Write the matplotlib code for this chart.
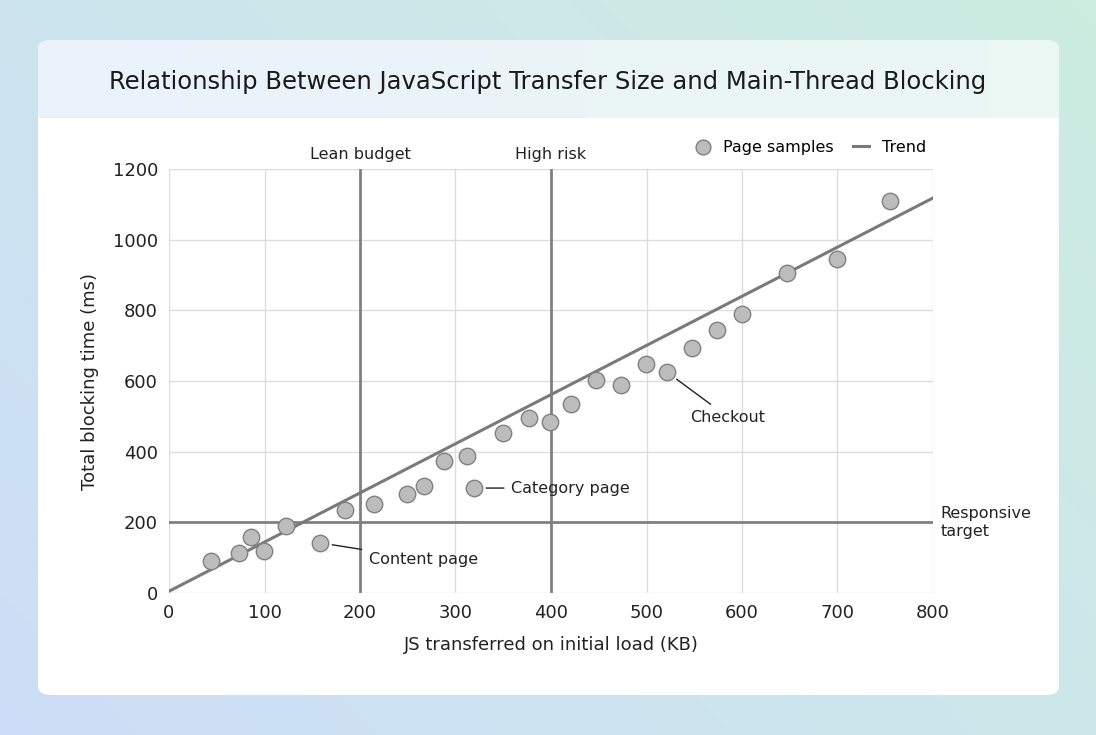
import numpy as np
import matplotlib.pyplot as plt
from matplotlib.patches import FancyBboxPatch

# page samples
js_kb = [44, 73, 86, 99, 122, 158, 184, 215, 249, 267, 288, 312, 319, 350, 377, 399,
         421, 447, 473, 499, 521, 548, 574, 600, 647, 700, 755]
tbt_ms = [91, 113, 158, 119, 190, 142, 235, 252, 280, 303, 374, 388, 297, 453, 495, 484,
          535, 603, 589, 648, 626, 693, 744, 790, 906, 945, 1110]
trend_x = [0, 800]
trend_y = [5, 1118]

budget_lines = [200, 400]
budget_labels = ["Lean budget", "High risk"]
target_ms = 200

callouts = [("Content page", 158, 142), ("Category page", 319, 297), ("Checkout", 521, 626)]

fig = plt.figure(figsize=(10.96, 7.35), dpi=100)

# background gradient
bg = fig.add_axes([0, 0, 1, 1], zorder=-10)
gx = np.linspace(0, 1, 256)
gy = np.linspace(0, 1, 256)
X, Y = np.meshgrid(gx, gy)
c1 = np.array([0.80, 0.87, 0.97])
c2 = np.array([0.80, 0.93, 0.88])
t = (X * 0.6 + (1 - Y) * 0.4)[..., None]
bg.imshow(c1 * (1 - t) + c2 * t, extent=[0, 1, 0, 1], aspect="auto")

# card
card = FancyBboxPatch((38 / 1096, 40 / 735), 1021 / 1096, 655 / 735,
                      boxstyle="round,pad=0,rounding_size=0.012",
                      facecolor="white", edgecolor="none", transform=bg.transAxes)
bg.add_patch(card)
hdr = np.linspace(0, 1, 256)[None, :, None]
hc = np.array([0.92, 0.95, 0.99]) * (1 - hdr) + np.array([0.92, 0.97, 0.95]) * hdr
him = bg.imshow(np.repeat(hc, 4, axis=0), extent=[38 / 1096, 1059 / 1096, 617 / 735, 695 / 735],
                aspect="auto", zorder=2)
him.set_clip_path(card)
bg.set_xlim(0, 1)
bg.set_ylim(0, 1)
bg.axis("off")
fig.text(0.5, 653 / 735, "Relationship Between JavaScript Transfer Size and Main-Thread Blocking",
         ha="center", va="center", fontsize=17.5, color="#1a1a1a")

ax = fig.add_axes([169 / 1096, 142 / 735, 764 / 1096, 424 / 735])
ax.set_xlim(0, 800)
ax.set_ylim(0, 1200)
ax.set_xticks(range(0, 801, 100))
ax.set_yticks(range(0, 1201, 200))
ax.grid(True, color="#dddddd", linewidth=1)
ax.set_axisbelow(True)
for s in ax.spines.values():
    s.set_visible(False)
ax.tick_params(length=0, labelsize=13, colors="#222222", pad=8)
ax.set_xlabel("JS transferred on initial load (KB)", fontsize=13, color="#222222", labelpad=10)
ax.set_ylabel("Total blocking time (ms)", fontsize=13, color="#222222", labelpad=10)

for xv, lab in zip(budget_lines, budget_labels):
    ax.axvline(xv, color="#808080", linewidth=2, zorder=2)
    ax.text(xv, 1220, lab, ha="center", va="bottom", fontsize=11.5, color="#222222")
ax.axhline(target_ms, color="#808080", linewidth=2, zorder=2)
ax.text(808, target_ms, "Responsive\ntarget", ha="left", va="center", fontsize=11.5,
        color="#222222", clip_on=False)

ax.plot(trend_x, trend_y, color="#7a7a7a", linewidth=2.2, zorder=3, label="Trend")
ax.scatter(js_kb, tbt_ms, s=140, color="#bcbcbc", edgecolor="#808080", linewidth=1,
           zorder=4, label="Page samples")

offsets = {"Content page": (51, -46), "Category page": (39, 0), "Checkout": (25, -128)}
for lab, xv, yv in callouts:
    dx, dy = offsets[lab]
    ax.annotate(lab, (xv, yv), xytext=(xv + dx, yv + dy), fontsize=11.5, color="#222222",
                ha="left", va="center",
                arrowprops=dict(arrowstyle="-", color="#222222", lw=1, shrinkA=3, shrinkB=9))

h, l = ax.get_legend_handles_labels()
ax.legend(h[::-1], l[::-1], loc="lower right", bbox_to_anchor=(1.01, 1.0), ncol=2,
          frameon=False, fontsize=11.5, handlelength=1.0, columnspacing=1.2, markerscale=0.9)

fig.savefig("out.png", dpi=100)
